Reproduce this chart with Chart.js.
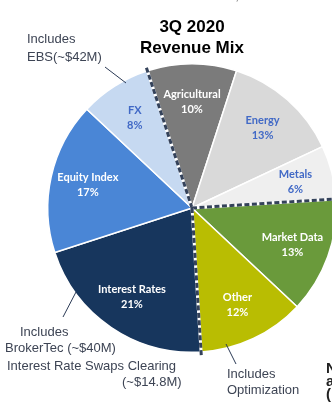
<!DOCTYPE html>
<html>
<head>
<meta charset="utf-8">
<script src="https://cdn.jsdelivr.net/npm/chart.js@4.4.1/dist/chart.umd.min.js"></script>
<style>
  html, body { margin: 0; padding: 0; background: #fff; overflow: hidden; }
  #wrap { position: relative; width: 332px; height: 402px; overflow: hidden; }
  #revenueMix { position: absolute; left: 0; top: 0; }
  .note { position: absolute; font: 13px "Liberation Sans", Arial, sans-serif; color: #3d4454; white-space: nowrap; line-height: 16.7px; }
  .cut { position: absolute; font: bold 15px "Liberation Sans", Arial, sans-serif; color: #222; line-height: 13px; white-space: nowrap; }
</style>
</head>
<body>
<div id="wrap">
  <canvas id="revenueMix" width="340" height="402"></canvas>

  <div class="note" style="left:228px; top:-12px; color:#666;">1,700 contracts</div>
  <div class="note" style="left:27px; top:29.5px; line-height:18px;">Includes<br>EBS(~$42M)</div>
  <div class="note" style="left:20px; top:323.5px;">Includes</div>
  <div class="note" style="left:5px; top:340.2px;">BrokerTec (~$40M)</div>
  <div class="note" style="left:7px; top:357.5px;">Interest Rate Swaps Clearing</div>
  <div class="note" style="left:122px; top:373.5px;">(~$14.8M)</div>
  <div class="note" style="left:227px; top:366px; line-height:16px;">Includes<br>Optimization</div>
  <div class="cut" style="left:326px; top:361px;">N<br>a<br>(</div>
</div>

<script>
// 3Q 2020 revenue mix (percent of total)
const categories = ['Agricultural', 'Energy', 'Metals', 'Market Data', 'Other', 'Interest Rates', 'Equity Index', 'FX'];
const shares = [10, 13, 6, 13, 12, 21, 17, 8];
const sliceColors = ['#7b7b7b', '#d9d9d9', '#efefef', '#6a9a3b', '#b9bd02', '#17365d', '#4a86d6', '#c6d9f1'];
const labelColors = ['#ffffff', '#4169c6', '#4169c6', '#ffffff', '#ffffff', '#ffffff', '#ffffff', '#4169c6'];
// slices where a dashed group divider starts
const groupStarts = ['Agricultural', 'Market Data', 'Interest Rates'];

// leader lines from the notes to their slices
const leaders = [
    [105, 67, 126, 83],
    [63, 317, 76, 292],
    [226, 344, 236, 364]
];

const sliceLabels = {
    id: 'sliceLabels',
    afterDatasetsDraw(chart) {
        const ctx = chart.ctx;
        const arcs = chart.getDatasetMeta(0).data;

        // dashed dividers between business groups
        groupStarts.forEach(name => {
            const arc = arcs[categories.indexOf(name)];
            const a = arc.startAngle;
            const r = arc.outerRadius + 5;
            const x2 = arc.x + Math.cos(a) * r;
            const y2 = arc.y + Math.sin(a) * r;
            ctx.save();
            ctx.lineWidth = 3;
            ctx.strokeStyle = '#ffffff';
            ctx.beginPath();
            ctx.moveTo(arc.x, arc.y);
            ctx.lineTo(x2, y2);
            ctx.stroke();
            ctx.strokeStyle = '#34425a';
            ctx.setLineDash([5, 2.5]);
            ctx.beginPath();
            ctx.moveTo(arc.x, arc.y);
            ctx.lineTo(x2, y2);
            ctx.stroke();
            ctx.restore();
        });

        // category name + percentage inside each slice
        ctx.save();
        ctx.font = 'bold 11px Lato, "Open Sans", sans-serif';
        ctx.textAlign = 'center';
        ctx.textBaseline = 'middle';
        arcs.forEach((arc, i) => {
            const mid = (arc.startAngle + arc.endAngle) / 2;
            const r = arc.outerRadius * 0.74;
            const x = arc.x + Math.cos(mid) * r;
            const y = arc.y + Math.sin(mid) * r;
            ctx.fillStyle = labelColors[i];
            ctx.fillText(categories[i], x, y - 7);
            ctx.fillText(shares[i] + '%', x, y + 8);
        });
        ctx.restore();

        // note leader lines
        ctx.save();
        ctx.strokeStyle = '#2b3a55';
        ctx.lineWidth = 1;
        leaders.forEach(l => {
            ctx.beginPath();
            ctx.moveTo(l[0], l[1]);
            ctx.lineTo(l[2], l[3]);
            ctx.stroke();
        });
        ctx.restore();
    }
};

const ctx = document.getElementById('revenueMix').getContext('2d');
new Chart(ctx, {
    type: 'pie',
    data: {
        labels: categories,
        datasets: [{
            data: shares,
            backgroundColor: sliceColors,
            borderColor: '#ffffff',
            borderWidth: 1.5,
            hoverOffset: 0
        }]
    },
    options: {
        responsive: false,
        animation: false,
        rotation: -18,
        layout: {
            padding: { left: 47, right: 3, top: 0, bottom: 49 }
        },
        plugins: {
            legend: { display: false },
            tooltip: { enabled: false },
            title: {
                display: true,
                text: ['3Q 2020', 'Revenue Mix'],
                color: '#000000',
                font: { family: '"Liberation Sans", Arial, sans-serif', size: 17, weight: 'bold', lineHeight: '21px' },
                padding: { top: 17, bottom: 4 }
            }
        }
    },
    plugins: [sliceLabels]
});
</script>
</body>
</html>
